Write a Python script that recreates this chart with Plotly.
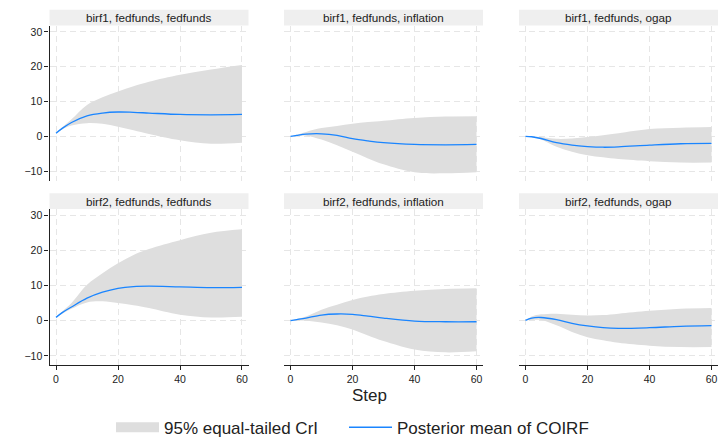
import plotly.graph_objects as go

# ---------------- data ----------------
steps = [0, 2, 5, 10, 15, 20, 25, 30, 40, 50, 60]

titles = [
    "birf1, fedfunds, fedfunds", "birf1, fedfunds, inflation", "birf1, fedfunds, ogap",
    "birf2, fedfunds, fedfunds", "birf2, fedfunds, inflation", "birf2, fedfunds, ogap",
]

mean_1 = [0.9, 2.3, 4.0, 5.9, 6.7, 7.0, 6.9, 6.7, 6.3, 6.2, 6.3]
upper_1 = [0.9, 2.6, 4.9, 9.0, 11.2, 12.9, 14.4, 15.7, 17.7, 19.2, 20.5]
lower_1 = [0.9, 2.0, 3.1, 3.8, 3.6, 2.8, 1.8, 0.7, -1.1, -2.1, -1.8]

mean_2 = [0.0, 0.3, 0.66, 0.75, 0.3, -0.66, -1.3, -1.8, -2.3, -2.4, -2.3]
upper_2 = [0.0, 0.5, 1.3, 2.4, 3.0, 3.6, 4.1, 4.5, 5.3, 5.7, 5.8]
lower_2 = [0.0, 0.1, 0.2, -0.9, -2.5, -4.4, -6.3, -8.0, -10.3, -10.6, -10.3]

mean_3 = [0.0, -0.1, -0.6, -1.8, -2.5, -2.9, -3.1, -3.0, -2.5, -2.1, -2.0]
upper_3 = [0.0, 0.0, -0.2, -0.7, -0.6, -0.2, 0.3, 0.9, 2.1, 2.5, 2.7]
lower_3 = [0.0, -0.2, -0.9, -3.0, -4.4, -5.4, -6.0, -6.5, -7.1, -7.5, -7.5]

mean_4 = [0.94, 2.3, 3.9, 6.4, 8.1, 9.2, 9.7, 9.8, 9.6, 9.4, 9.5]
upper_4 = [0.94, 2.6, 5.0, 10.2, 13.5, 16.3, 18.7, 20.4, 22.9, 25.0, 26.0]
lower_4 = [0.94, 2.0, 3.4, 5.2, 5.5, 5.0, 4.4, 3.6, 1.7, 0.9, 1.1]

mean_5 = [0.0, 0.3, 0.75, 1.6, 1.9, 1.8, 1.3, 0.75, -0.1, -0.3, -0.3]
upper_5 = [0.0, 0.5, 1.2, 3.1, 4.5, 5.9, 6.9, 7.6, 8.5, 9.0, 9.2]
lower_5 = [0.0, 0.0, 0.0, -0.5, -1.3, -2.5, -4.2, -5.8, -8.2, -9.0, -8.7]

mean_6 = [0.1, 0.75, 0.9, 0.3, -0.75, -1.5, -2.0, -2.2, -2.0, -1.6, -1.4]
upper_6 = [0.1, 1.2, 1.8, 2.0, 1.7, 1.5, 1.6, 2.0, 2.8, 3.4, 3.6]
lower_6 = [0.1, 0.2, 0.2, -1.3, -3.2, -4.7, -5.6, -6.3, -7.1, -7.5, -7.5]

x_ticks = [0, 20, 40, 60]
y_ticks = [-10, 0, 10, 20, 30]

# ---------------- style ----------------
W, H = 718, 446
FONT = "Liberation Sans, Arial, Helvetica, sans-serif"
BAND = "#dedede"
BLUE = "#1a85ff"
GRID = "#e6e6e6"
HEAD = "#efefef"

col_px = [(49.5, 248.5), (284.0, 483.0), (519.0, 718.0)]
row_px = [(26.0, 184.0), (212.7, 372.0)]
head_h = 16.0

def xd(a, b):
    return [a / W, b / W]

def yd(top, bot):
    return [1 - bot / H, 1 - top / H]

panels = [
    (mean_1, lower_1, upper_1), (mean_2, lower_2, upper_2), (mean_3, lower_3, upper_3),
    (mean_4, lower_4, upper_4), (mean_5, lower_5, upper_5), (mean_6, lower_6, upper_6),
]

fig = go.Figure()

# legend-only key for the band
fig.add_trace(go.Scatter(
    x=[None], y=[None], mode="lines", name="95% equal-tailed CrI",
    line=dict(color=BAND, width=15), legend="legend", hoverinfo="skip",
))

layout = dict(
    width=W, height=H, margin=dict(l=0, r=0, t=0, b=0),
    paper_bgcolor="white", plot_bgcolor="white",
    font=dict(family=FONT, color="#1a1a1a"),
    showlegend=True,
)
shapes = []
annotations = []

for i, (m, lo, up) in enumerate(panels):
    r, c = divmod(i, 3)
    sfx = "" if i == 0 else str(i + 1)
    xa, ya = "x" + sfx, "y" + sfx
    fig.add_trace(go.Scatter(
        x=steps, y=lo, mode="lines", line=dict(width=0, color=BAND, shape="spline"),
        xaxis=xa, yaxis=ya, showlegend=False, hoverinfo="skip",
    ))
    fig.add_trace(go.Scatter(
        x=steps, y=up, mode="lines", fill="tonexty", fillcolor=BAND,
        line=dict(width=0, color=BAND, shape="spline"),
        xaxis=xa, yaxis=ya, showlegend=False, hoverinfo="skip",
    ))
    fig.add_trace(go.Scatter(
        x=steps, y=m, mode="lines", line=dict(width=1.3, color=BLUE, shape="spline"),
        name="Posterior mean of COIRF", showlegend=(i == 0), legend="legend2",
        xaxis=xa, yaxis=ya,
    ))

    cx0, cx1 = col_px[c]
    ry0, ry1 = row_px[r]
    bottom = (r == 1)
    left = (c == 0)
    layout["xaxis" + sfx] = dict(
        domain=xd(cx0, cx1), anchor=ya, range=[-2.1, 62.1],
        tickvals=x_ticks, showticklabels=bottom, ticklabeloverflow="allow",
        ticks="outside" if bottom else "", ticklen=4, tickcolor="#222",
        showline=bottom, linecolor="#222", linewidth=1.2,
        showgrid=True, gridcolor=GRID, griddash="6px,4px", gridwidth=1,
        zeroline=False, tickfont=dict(size=10.5, family=FONT, color="#222"),
    )
    layout["yaxis" + sfx] = dict(
        domain=yd(ry0, ry1), anchor=xa, range=[-12.7, 31.8],
        tickvals=y_ticks, showticklabels=left,
        ticks="outside" if left else "", ticklen=4, tickcolor="#222",
        showline=left, linecolor="#222", linewidth=1.2,
        showgrid=True, gridcolor=GRID, griddash="6px,4px", gridwidth=1,
        zeroline=False, tickfont=dict(size=10.5, family=FONT, color="#222"),
    )
    # panel header
    shapes.append(dict(
        type="rect", xref="paper", yref="paper",
        x0=cx0 / W, x1=cx1 / W, y0=1 - ry0 / H, y1=1 - (ry0 - head_h) / H,
        fillcolor=HEAD, line=dict(width=0), layer="below",
    ))
    annotations.append(dict(
        text=titles[i], xref="paper", yref="paper",
        x=(cx0 + cx1) / 2 / W, y=1 - (ry0 - head_h / 2) / H,
        xanchor="center", yanchor="middle", showarrow=False,
        font=dict(size=11.7, family=FONT, color="#222"),
    ))

annotations.append(dict(
    text="Step", xref="paper", yref="paper", x=369 / W, y=1 - 403 / H,
    xanchor="center", yanchor="middle", showarrow=False,
    font=dict(size=17, family=FONT, color="#222"),
))

layout["shapes"] = shapes
layout["annotations"] = annotations
legend_common = dict(
    orientation="h", xanchor="left", y=1 - 435.5 / H, yanchor="middle",
    font=dict(size=17, family=FONT, color="#222"), itemwidth=43,
    bgcolor="rgba(0,0,0,0)",
)
layout["legend"] = dict(x=111 / W, **legend_common)
layout["legend2"] = dict(x=344 / W, **legend_common)
fig.update_layout(**layout)

fig.write_html("out.html", post_script="document.body.style.margin='0';",
               config={"displayModeBar": False})
